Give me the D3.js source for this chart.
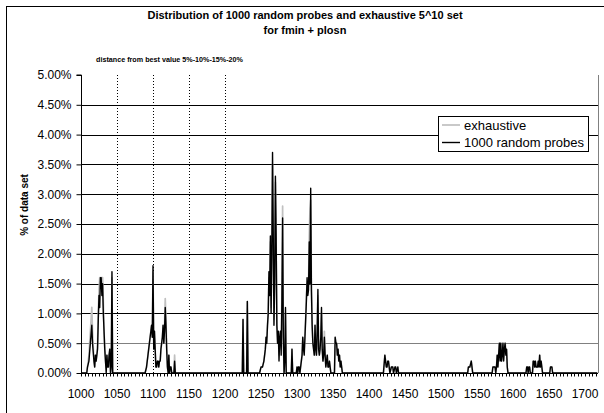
<!DOCTYPE html>
<html>
<head>
<meta charset="utf-8">
<script src="https://cdn.jsdelivr.net/npm/d3@7/dist/d3.min.js"></script>
<style>
  html, body { margin: 0; padding: 0; background: #fff; }
  svg { display: block; font-family: "Liberation Sans", Arial, sans-serif; }
</style>
</head>
<body>
<svg id="chart" width="604" height="413"></svg>
<script>
// ---- data (percent of data set) ----
const categories = [
  1000,1008,1009,1011,1013,1015,1016,1018,1019,1020,1021,1022,1023,1024,1025,1026,1027,1028,1029,1030,
  1031,1032,1033,1034,1035,1036,1037,1038,1039,1040,1041,1042,1043,1044,
  1089,1091,1093,1095,1097,1098,1099,1100,1101,1102,1103,1104,1105,1106,1107,1108,1109,1110,
  1111,1112,1113,1114,1115,1116,1117,1118,1119,1120,1121,1122,1123,1124,1125,1126,1129,1130,1131,
  1224,1225,1226,1230,1231,1232,
  1248,1250,1252,1254,1255,1256,1257,1258,1259,1260,1261,1262,1263,1264,1265,1266,1267,1268,1269,1270,
  1271,1272,1273,1274,1275,1276,1277,1278,1279,1280,1281,1282,1283,1284,1285,1292,1293,1294,
  1299,1300,1301,1302,1303,1304,1305,1306,1307,1308,1309,1310,1311,1312,1313,1314,1315,1316,1317,1318,
  1319,1320,1321,1322,1323,1324,1325,1326,1327,1328,1329,1330,1331,1332,1333,1334,1335,1336,1337,1338,
  1339,1340,1341,1342,1343,1344,1345,1346,1347,1352,1353,1354,1355,1356,1357,1358,1359,1360,1361,1362,1363,
  1420,1422,1423,1424,1425,1426,1427,1428,1429,1431,1432,1433,1434,1436,1437,1438,1440,1441,
  1537,1538,1540,1542,1543,1544,
  1571,1572,1575,1576,1577,1578,1579,1580,1581,1582,1583,1584,1585,1586,1587,1588,1589,1590,1591,1592,1593,
  1618,1619,1620,1621,1622,1623,1624,1627,1628,1629,1630,1631,1632,1634,1635,1636,1637,1638,1639,1640,1641,
  1651,1652,1654,1655,1717
];
const probes = [
  0,0,0.1,0.2,0.5,0.8,0.5,0.2,0.1,0.3,0.2,0.3,0.4,0.9,1.3,1.1,1.6,1.6,1.3,1.5,
  1.0,0.7,0.4,0.2,0,0.3,0.1,0.1,0.3,0.4,0,0.1,1.7,0,
  0,0.1,0.3,0.5,0.7,0.8,0.6,1.8,0.4,0.7,0.4,0.1,0.1,0.2,0.2,0.1,0.2,0.2,
  0.4,0.5,0.6,0.8,0.5,0.7,1.1,0.8,0.4,0.1,0,0.3,0,0.1,0.1,0,0,0.2,0,
  0,0.9,0,0,1.2,0,
  0,0.1,0.1,0.2,0.3,0.4,0.6,0.5,0.8,1.0,1.7,1.3,2.3,1.0,2.0,3.7,2.3,0.8,1.5,3.3,
  2.3,0.8,0.5,0.7,0.2,0.6,0.7,0.3,1.2,2.6,0.6,0,0.2,1.1,0,0,0.4,0,
  0,0.1,0,0.1,0.1,0,0.1,0.2,0.3,0.6,0.4,0.3,0.6,0.9,1.2,1.6,1.3,1.4,2.2,1.5,
  3.1,1.4,0.8,0.5,0.4,0.3,0.8,0.4,0.3,0.7,1.4,0.4,0.3,0.4,0.6,1.1,0.4,0.2,0.3,0.6,
  0.3,0.1,0.2,0.3,0.1,0.1,0.2,0.1,0,0,0.6,0.5,0.5,0.3,0.4,0.2,0.3,0.1,0.2,0.1,0,
  0,0.3,0.2,0.1,0.1,0.2,0.2,0.1,0,0.1,0.1,0.1,0,0.1,0.1,0,0.1,0,
  0,0.1,0.1,0.2,0.1,0,
  0,0.1,0.1,0,0.1,0.3,0.1,0.3,0.5,0.2,0.5,0.2,0.3,0.5,0.2,0.4,0.5,0.3,0.4,0.1,0,
  0,0.1,0.1,0,0.1,0.1,0,0,0.2,0.2,0.1,0.2,0.1,0.1,0.2,0.1,0.3,0.1,0.2,0.1,0,
  0,0.1,0.1,0,0
];
const exhaustive = [
  0,0,0.1,0.3,0.7,1.1,0.7,0.2,0.1,0.3,0.2,0.3,0.5,1.0,1.4,1.6,1.6,1.6,1.6,1.6,
  1.2,0.7,0.4,0.2,0.1,0.3,0.1,0.1,0.3,0.4,0,0.1,1.6,0,
  0,0.1,0.3,0.5,0.7,0.8,0.6,1.7,0.5,0.7,0.4,0.1,0.1,0.2,0.2,0.1,0.2,0.2,
  0.4,0.5,0.6,0.8,0.5,0.8,1.25,0.9,0.4,0.1,0,0.3,0,0.1,0.1,0,0,0.3,0,
  0,0.9,0,0,1.2,0,
  0,0.1,0.1,0.2,0.3,0.4,0.6,0.6,0.8,1.0,1.6,1.5,2.2,1.1,2.3,3.5,2.4,0.9,2.0,3.2,
  2.2,0.9,0.5,0.7,0.3,0.6,0.7,0.4,1.3,2.8,0.6,0,0.2,1.0,0,0,0.4,0,
  0,0.1,0,0.1,0.1,0,0.1,0.2,0.3,0.6,0.4,0.4,0.6,0.9,1.3,1.5,1.4,1.5,2.3,2.75,
  2.9,1.4,0.8,0.5,0.4,0.3,0.8,0.4,0.3,0.7,1.3,0.4,0.3,0.4,0.6,1.0,0.4,0.2,0.3,0.7,
  0.3,0.1,0.2,0.3,0.1,0.1,0.2,0.1,0,0,0.6,0.5,0.5,0.3,0.4,0.2,0.3,0.1,0.2,0.1,0,
  0,0.3,0.2,0.1,0.1,0.2,0.2,0.1,0,0.1,0.1,0.1,0,0.1,0.1,0,0.1,0,
  0,0.1,0.1,0.2,0.1,0,
  0,0.1,0.1,0,0.1,0.3,0.1,0.3,0.5,0.3,0.5,0.2,0.3,0.5,0.3,0.4,0.5,0.4,0.4,0.1,0,
  0,0.1,0.1,0,0.1,0.1,0,0,0.2,0.2,0.1,0.2,0.1,0.1,0.2,0.1,0.3,0.1,0.2,0.1,0,
  0,0.1,0.1,0,0
];
const xTickLabels = [1000,1050,1100,1150,1200,1250,1300,1350,1400,1450,1500,1550,1600,1650,1700];
const yTickValues = [0,0.5,1,1.5,2,2.5,3,3.5,4,4.5,5];
const distanceMarks = [1050,1100,1150,1200];
const seriesNames = ["exhaustive","1000 random probes"];
const titleLines = ["Distribution of 1000 random probes and exhaustive 5^10 set","for fmin + plosn"];

// ---- layout ----
const svg = d3.select("#chart");
const plot = { left: 81, right: 598, top: 75, bottom: 373 };
const x = d3.scaleLinear().domain([1000, 1718]).range([plot.left, plot.right]);
const y = d3.scaleLinear().domain([0, 5]).range([plot.bottom, plot.top]);

// outer chart border
svg.append("rect").attr("x", 6.5).attr("y", 6.5).attr("width", 640).attr("height", 440)
  .attr("fill", "none").attr("stroke", "#000").attr("stroke-width", 1);

// title
svg.append("text").attr("x", 305).attr("y", 19).attr("text-anchor", "middle")
  .attr("font-size", 11).attr("font-weight", "bold")
  .selectAll("tspan").data(titleLines).join("tspan")
  .attr("x", 305).attr("dy", (d, i) => i === 0 ? 0 : 15).text(d => d);

// small annotation
svg.append("text").attr("x", 96).attr("y", 62).attr("font-size", 7.2).attr("font-weight", "bold")
  .text("distance from best value 5%-10%-15%-20%");

// gridlines
svg.append("g").selectAll("line").data(yTickValues.filter(v => v > 0 && v < 5)).join("line")
  .attr("x1", plot.left).attr("x2", plot.right)
  .attr("y1", d => Math.round(y(d)) + 0.5).attr("y2", d => Math.round(y(d)) + 0.5)
  .attr("stroke", d => d === 0.5 ? "#808080" : "#000").attr("stroke-width", 1);

// right plot border
svg.append("line").attr("x1", plot.right + 0.5).attr("x2", plot.right + 0.5)
  .attr("y1", plot.top).attr("y2", plot.bottom).attr("stroke", "#808080");

// dotted distance lines
svg.append("g").selectAll("line").data(distanceMarks).join("line")
  .attr("x1", d => Math.round(x(d)) + 0.5).attr("x2", d => Math.round(x(d)) + 0.5)
  .attr("y1", plot.top).attr("y2", plot.bottom)
  .attr("stroke", "#000").attr("stroke-width", 1).attr("stroke-dasharray", "1,2");

// series
const line = d3.line().x(d => x(d[0])).y(d => y(d[1]));
const gray = categories.map((c, i) => [c, exhaustive[i]]);
const black = categories.map((c, i) => [c, probes[i]]);
svg.append("path").datum(gray).attr("d", line).attr("fill", "none")
  .attr("stroke", "#c0c0c0").attr("stroke-width", 1.7).attr("stroke-linejoin", "round");
svg.append("path").datum(black).attr("d", line).attr("fill", "none")
  .attr("stroke", "#000").attr("stroke-width", 1.4).attr("stroke-linejoin", "round");

// y axis
const yAxis = d3.axisLeft(y).tickValues(yTickValues).tickSize(5).tickPadding(5)
  .tickFormat(d => d3.format(".2f")(d) + "%");
const yg = svg.append("g").attr("transform", `translate(${plot.left + 0.5},0)`).call(yAxis);
yg.select(".domain").attr("d", `M-5,${plot.top}H0V${plot.bottom}`);
yg.selectAll("text").attr("font-size", 12).attr("font-family", "Liberation Sans, Arial, sans-serif").attr("fill", "#000");

// x axis: minor ticks every 5, labels every 50
const minorTicks = d3.range(1000, 1718, 5);
const xg = svg.append("g").attr("transform", `translate(0,${plot.bottom + 0.5})`);
xg.append("line").attr("x1", plot.left).attr("x2", plot.right).attr("stroke", "#000");
xg.selectAll("line.t").data(minorTicks).join("line").attr("class", "t")
  .attr("x1", d => Math.round(x(d)) + 0.5).attr("x2", d => Math.round(x(d)) + 0.5)
  .attr("y1", 0).attr("y2", 3).attr("stroke", "#000");
xg.selectAll("text").data(xTickLabels).join("text")
  .attr("x", d => x(d)).attr("y", 24).attr("text-anchor", "middle")
  .attr("font-size", 12).text(d => d);

// y axis title
svg.append("text").attr("transform", "translate(28,205) rotate(-90)")
  .attr("text-anchor", "middle").attr("font-size", 10).attr("font-weight", "bold")
  .text("% of data set");

// legend
const lg = svg.append("g");
lg.append("rect").attr("x", 438.5).attr("y", 116.5).attr("width", 150).attr("height", 35)
  .attr("fill", "#fff").attr("stroke", "#000");
const legendColors = ["#c0c0c0", "#000"];
seriesNames.forEach((name, i) => {
  const yy = 125 + i * 17.5;
  lg.append("line").attr("x1", 442).attr("x2", 460).attr("y1", yy).attr("y2", yy)
    .attr("stroke", legendColors[i]).attr("stroke-width", i === 0 ? 1.7 : 1.4);
  lg.append("text").attr("x", 464).attr("y", yy + 4.5).attr("font-size", 13).text(name);
});
</script>
</body>
</html>
